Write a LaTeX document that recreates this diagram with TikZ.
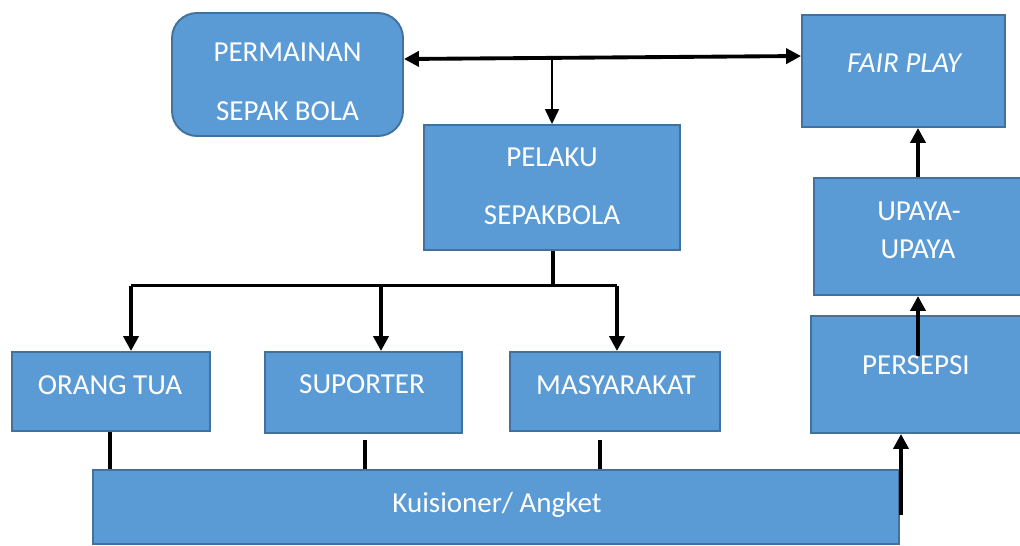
\documentclass[tikz,border=0pt]{standalone}
\usepackage{fontspec}
\setmainfont{Carlito}
\usetikzlibrary{arrows.meta}

\definecolor{boxfill}{HTML}{5B9BD5}
\definecolor{boxline}{HTML}{41719C}

\begin{document}
\begin{tikzpicture}[x=0.02cm, y=-0.02cm]
    % Define styles
    \tikzstyle{block} = [rectangle, draw=boxline, line width=1.1pt, fill=boxfill, inner sep=0pt]
    \tikzstyle{caption} = [anchor=base, text=white, font=\fontsize{16.5}{20}\selectfont, inner sep=0pt]
    \tikzstyle{arrow} = [line width=2.2pt, ->, >={Triangle[length=0.3cm, width=0.3cm]}]
    \tikzstyle{thinarrow} = [line width=0.8pt, ->, >={Triangle[length=0.3cm, width=0.28cm]}]
    \tikzstyle{link} = [line width=2.2pt]

    \useasboundingbox (0,0) rectangle (1020,545);

    % Boxes
    \node (permainan) [block, rounded corners=0.5cm, minimum width=4.62cm, minimum height=2.46cm] at (287.5,74.5) {};
    \node (fairplay) [block, minimum width=4.06cm, minimum height=2.24cm] at (903.5,71) {};
    \node (pelaku) [block, minimum width=5.12cm, minimum height=2.5cm] at (552,187.5) {};
    \node (upaya) [block, minimum width=4.16cm, minimum height=2.34cm] at (918,236.5) {};
    \node (persepsi) [block, minimum width=4.22cm, minimum height=2.34cm] at (916.5,374.5) {};
    \node (orangtua) [block, minimum width=3.96cm, minimum height=1.58cm] at (111,391.5) {};
    \node (suporter) [block, minimum width=3.94cm, minimum height=1.62cm] at (363.5,392.5) {};
    \node (masyarakat) [block, minimum width=4.2cm, minimum height=1.58cm] at (615,391.5) {};
    \node (kuisioner) [block, minimum width=16.12cm, minimum height=1.48cm] at (496,507) {};

    % Points on the connectors
    \coordinate (mid) at (552,58.5);
    \coordinate (split) at (553,285.5);
    \coordinate (j1) at (131,285.5);
    \coordinate (j2) at (381,285.5);
    \coordinate (j3) at (617,285.5);
    \coordinate (kq) at (901,515);
    \coordinate (ps) at (918,356);

    % Arrows
    \draw [arrow, <->] ([yshift=0.31cm]permainan.east) -- ([yshift=0.3cm]fairplay.west);
    \draw [thinarrow] (mid) -- (mid |- pelaku.north);

    \draw [link] (pelaku.south -| split) -- (split);
    \draw [link] (j1) -- (j3);
    \draw [arrow] (j1) -- (j1 |- orangtua.north);
    \draw [arrow] (j2) -- (j2 |- suporter.north);
    \draw [arrow] (j3) -- (j3 |- masyarakat.north);

    \draw [link] ([xshift=-0.02cm]orangtua.south) -- ([xshift=-0.02cm]orangtua.south |- kuisioner.north);
    \draw [link] ([xshift=0.03cm, yshift=-0.12cm]suporter.south) -- ([xshift=0.03cm]suporter.south |- kuisioner.north);
    \draw [link] ([xshift=-0.3cm, yshift=-0.16cm]masyarakat.south) -- ([xshift=-0.3cm]masyarakat.south |- kuisioner.north);

    \draw [arrow] (kq) -- (kq |- persepsi.south);
    \draw [arrow] (ps) -- (ps |- upaya.south);
    \draw [arrow] (upaya.north) -- (upaya.north |- fairplay.south);

    % Labels
    \node (permainan-a) [caption] at (287.5,61) {PERMAINAN};
    \node (permainan-b) [caption] at (287.5,120.5) {SEPAK BOLA};
    \node (fairplay-a) [caption, font=\fontsize{16.5}{20}\selectfont\itshape] at (904,72) {FAIR PLAY};
    \node (pelaku-a) [caption] at (552,166.5) {PELAKU};
    \node (pelaku-b) [caption] at (552,224.5) {SEPAKBOLA};
    \node (upaya-a) [caption] at (919,220.5) {UPAYA-};
    \node (upaya-b) [caption] at (918,258.5) {UPAYA};
    \node (persepsi-a) [caption] at (916,374.5) {PERSEPSI};
    \node (orangtua-a) [caption] at (110,394) {ORANG TUA};
    \node (suporter-a) [caption] at (362,393) {SUPORTER};
    \node (masyarakat-a) [caption] at (616,394) {MASYARAKAT};
    \node (kuisioner-a) [caption] at (497,512.5) {Kuisioner/ Angket};
\end{tikzpicture}
\end{document}
